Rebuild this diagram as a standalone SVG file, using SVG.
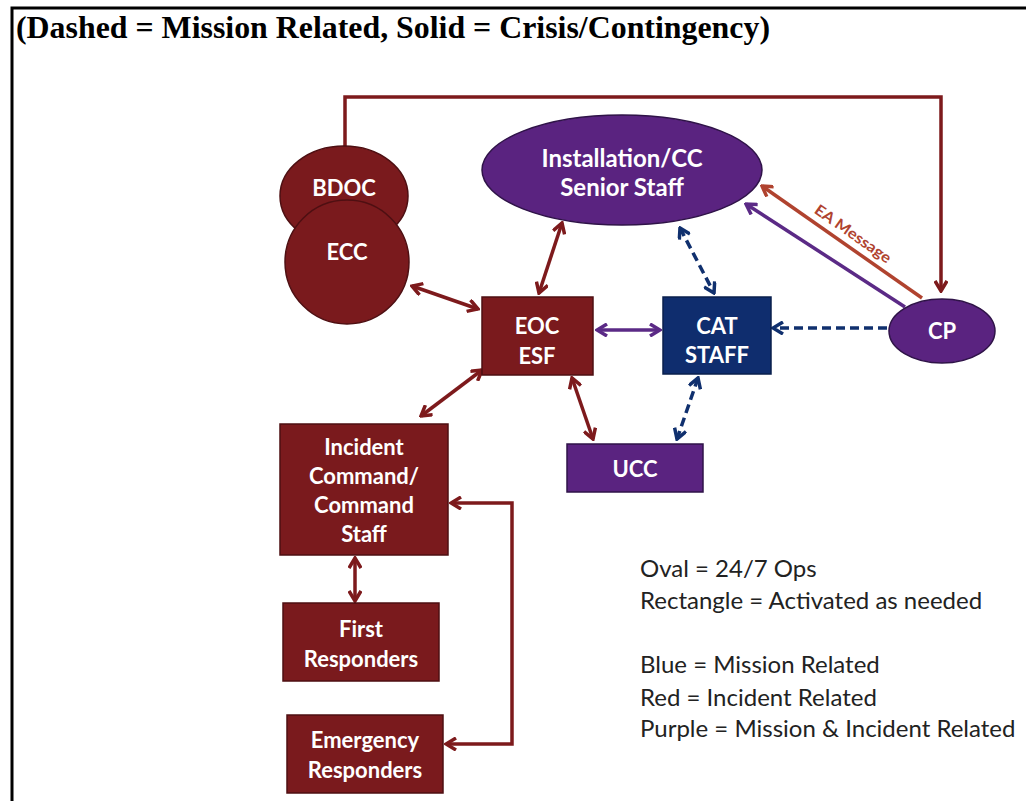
<svg xmlns="http://www.w3.org/2000/svg" width="1026" height="801" viewBox="0 0 1026 801">
<style>
.title{font-family:"Liberation Serif","Times New Roman",serif;font-weight:bold;font-size:32px;fill:#000}
.nt{font-family:Lato,"Open Sans","Liberation Sans",sans-serif;font-weight:700;font-size:22px;fill:#fff;text-anchor:middle}
.big{font-size:24px}
.leg{font-family:Lato,"Open Sans","Liberation Sans",sans-serif;font-size:24px;fill:#222}
.red{fill:#7a1a1d;stroke:#4e0f12;stroke-width:1.5}
.pur{fill:#5a2380;stroke:#2f1348;stroke-width:1.5}
.blu{fill:#0f2d6e;stroke:#0a1f4c;stroke-width:1.5}
.lr{fill:none;stroke:#7d1a1c;stroke-width:3.5}
.lp{fill:none;stroke:#5b2a86;stroke-width:3.5}
.lb{fill:none;stroke:#10306e;stroke-width:3.5;stroke-dasharray:9 5}
.le{fill:none;stroke:#b0432f;stroke-width:3.5}
.ea{font-family:Lato,"Open Sans","Liberation Sans",sans-serif;font-weight:700;font-size:15px;fill:#b0432f}
</style>
<defs>
<marker id="ar" viewBox="0 0 14 14" refX="12" refY="7" markerWidth="14" markerHeight="14" markerUnits="userSpaceOnUse" orient="auto-start-reverse"><path d="M2,1 L12,7 L2,13" fill="none" stroke="#7d1a1c" stroke-width="3.5"/></marker>
<marker id="ap" viewBox="0 0 14 14" refX="12" refY="7" markerWidth="14" markerHeight="14" markerUnits="userSpaceOnUse" orient="auto-start-reverse"><path d="M2,1 L12,7 L2,13" fill="none" stroke="#5b2a86" stroke-width="3.5"/></marker>
<marker id="ab" viewBox="0 0 14 14" refX="12" refY="7" markerWidth="14" markerHeight="14" markerUnits="userSpaceOnUse" orient="auto-start-reverse"><path d="M2,1 L12,7 L2,13" fill="none" stroke="#10306e" stroke-width="3.5"/></marker>
<marker id="ae" viewBox="0 0 14 14" refX="12" refY="7" markerWidth="14" markerHeight="14" markerUnits="userSpaceOnUse" orient="auto-start-reverse"><path d="M2,1 L12,7 L2,13" fill="none" stroke="#b0432f" stroke-width="3.5"/></marker>
</defs>
<rect width="1026" height="801" fill="#fff"/>
<path d="M12,801 V8 H1026" fill="none" stroke="#000" stroke-width="3"/>
<text class="title" x="16" y="38" textLength="754" lengthAdjust="spacingAndGlyphs">(Dashed = Mission Related, Solid = Crisis/Contingency)</text>

<g id="connectors">
<path class="lr" d="M345,147 V97 H941 V291" marker-end="url(#ar)"/>
<line class="lr" x1="412" y1="286" x2="478" y2="309" marker-start="url(#ar)" marker-end="url(#ar)"/>
<line class="lr" x1="562" y1="223" x2="539" y2="293" marker-start="url(#ar)" marker-end="url(#ar)"/>
<line class="lp" x1="597" y1="330" x2="660" y2="330" marker-start="url(#ap)" marker-end="url(#ap)"/>
<line class="lb" x1="680" y1="228" x2="714" y2="293" marker-start="url(#ab)" marker-end="url(#ab)"/>
<line class="lb" x1="887" y1="328" x2="773" y2="328" marker-end="url(#ab)"/>
<line class="lp" x1="905" y1="307" x2="746" y2="204" marker-end="url(#ap)"/>
<line class="le" x1="922" y1="298" x2="762" y2="186" marker-end="url(#ae)"/>
<text class="ea" transform="translate(850,238) rotate(35)" text-anchor="middle" textLength="90" lengthAdjust="spacingAndGlyphs">EA Message</text>
<line class="lr" x1="482" y1="370" x2="421" y2="416" marker-start="url(#ar)" marker-end="url(#ar)"/>
<line class="lr" x1="572" y1="378" x2="593" y2="439" marker-start="url(#ar)" marker-end="url(#ar)"/>
<line class="lb" x1="698" y1="378" x2="677" y2="439" marker-start="url(#ab)" marker-end="url(#ab)"/>
<line class="lr" x1="355" y1="558" x2="355" y2="601" marker-start="url(#ar)" marker-end="url(#ar)"/>
<path class="lr" d="M451,503 H512 V744 H446" marker-start="url(#ar)" marker-end="url(#ar)"/>
</g>

<g id="bdoc"><ellipse class="red" cx="344" cy="196" rx="64" ry="50"/><text class="nt" x="344" y="196">BDOC</text></g>
<g id="ecc"><circle class="red" cx="347" cy="262" r="62"/><text class="nt" x="347" y="260">ECC</text></g>
<g id="installation"><ellipse class="pur" cx="622" cy="170" rx="140" ry="55"/><text class="nt big" x="622" y="167">Installation/CC</text><text class="nt big" x="622" y="196">Senior Staff</text></g>
<g id="eoc"><rect class="red" x="482" y="297" width="111" height="78"/><text class="nt" x="537" y="334">EOC</text><text class="nt" x="537" y="364">ESF</text></g>
<g id="cat"><rect class="blu" x="663" y="297" width="108" height="77"/><text class="nt" x="717" y="334">CAT</text><text class="nt" x="717" y="363">STAFF</text></g>
<g id="cp"><ellipse class="pur" cx="942" cy="331" rx="53" ry="32"/><text class="nt" x="942" y="339">CP</text></g>
<g id="ucc"><rect class="pur" x="567" y="444" width="136" height="48"/><text class="nt" x="635" y="477">UCC</text></g>
<g id="incident"><rect class="red" x="280" y="424" width="168" height="131"/><text class="nt" x="364" y="455">Incident</text><text class="nt" x="364" y="484">Command/</text><text class="nt" x="364" y="513">Command</text><text class="nt" x="364" y="542">Staff</text></g>
<g id="first"><rect class="red" x="283" y="603" width="156" height="78"/><text class="nt" x="361" y="637">First</text><text class="nt" x="361" y="667">Responders</text></g>
<g id="emergency"><rect class="red" x="287" y="715" width="156" height="78"/><text class="nt" x="365" y="748">Emergency</text><text class="nt" x="365" y="778">Responders</text></g>

<g id="legend">
<text class="leg" x="640" y="577">Oval = 24/7 Ops</text>
<text class="leg" x="640" y="609">Rectangle = Activated as needed</text>
<text class="leg" x="640" y="673">Blue = Mission Related</text>
<text class="leg" x="640" y="706">Red = Incident Related</text>
<text class="leg" x="640" y="737">Purple = Mission &amp; Incident Related</text>
</g>
</svg>
